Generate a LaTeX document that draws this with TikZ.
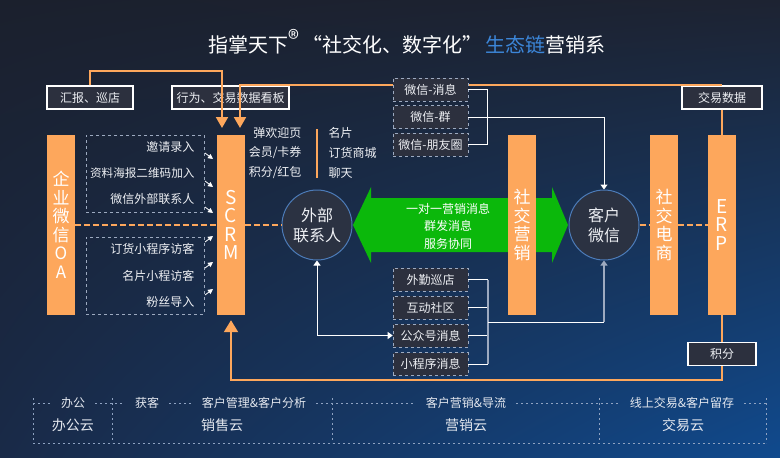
\documentclass[tikz,border=0pt]{standalone}
\usepackage{fontspec}
\setmainfont{Noto Sans CJK SC}
\usetikzlibrary{arrows.meta,shadings}

\definecolor{barorange}{HTML}{FDA75C}
\definecolor{arrowgreen}{HTML}{0BB80B}
\definecolor{circfill}{HTML}{2B3242}
\definecolor{circblue}{HTML}{4C7BB8}
\definecolor{boxfill}{HTML}{2C303E}
\definecolor{txt}{HTML}{EEF0F4}
\definecolor{steel}{HTML}{9DAAC0}
\definecolor{cloudline}{HTML}{8FA3C2}
\definecolor{titleblue}{HTML}{3C86D8}
\definecolor{bgul}{RGB}{27,32,45}
\definecolor{bgur}{RGB}{29,35,50}
\definecolor{bgll}{RGB}{25,42,72}
\definecolor{bglr}{RGB}{16,74,142}

\begin{document}
\begin{tikzpicture}[x=1pt, y=-1pt,
  every node/.style={text=txt, font=\fontsize{12}{14}\selectfont},
  bar/.style={fill=barorange, minimum width=28pt, minimum height=180pt, inner sep=0pt, text=white, align=center, font=\fontsize{17}{18.5}\selectfont},
  circ/.style={circle, draw=circblue, line width=1pt, fill=circfill, minimum size=70pt, inner sep=0pt, align=center, font=\fontsize{16}{20}\selectfont},
  solidbox/.style={draw=white, line width=1.2pt, fill=boxfill, minimum height=23pt, inner sep=0pt},
  dashbox/.style={draw=steel, dashed, line width=0.6pt, fill=boxfill, minimum width=75pt, minimum height=23pt, inner sep=0pt},
  orangeline/.style={draw=barorange, line width=2pt},
  orangedash/.style={draw=barorange, line width=1.5pt, dash pattern=on 6pt off 3pt},
  wline/.style={draw=white, line width=1pt},
  tinyarrow/.style={draw=white, line width=0.8pt, -{Triangle[width=5pt,length=5pt]}},
  cloudlbl/.style={inner xsep=10pt, text=txt!90!cloudline},
  cloudname/.style={font=\fontsize{14}{16}\selectfont, text=txt!90!cloudline},
  cloudrule/.style={draw=cloudline, line width=0.7pt, dash pattern=on 2pt off 3pt}]

\useasboundingbox (0,0) rectangle (780,458);
\shade[upper left=bgul, upper right=bgur, lower left=bgll, lower right=bglr] (0,0) rectangle (780,458);

\node[font=\fontsize{20}{24}\selectfont, text=white] (title) at (407,42)
  {指掌天下\raisebox{5pt}{\scalebox{1.9}{\fontsize{12}{12}\selectfont ®}}\,“社交化、数字化”\,\textcolor{titleblue}{生态链}营销系};

% green double arrow
\fill[arrowgreen] (353,225) -- (371,187) -- (371,198) -- (552,198) -- (552,187) -- (568,225)
  -- (552,263) -- (552,252) -- (371,252) -- (371,263) -- cycle;
\node[align=center, font=\fontsize{12}{17.5}\selectfont, text=white] (msg) at (448,226) {一对一营销消息\\群发消息\\服务协同};

\node[bar] (oa) at (61,225) {企\\业\\微\\信\\O\\A};
\node[bar, font=\fontsize{19}{18.5}\selectfont] (scrm) at (231,225) {S\\C\\R\\M};
\node[bar] (sm) at (522,225) {社\\交\\营\\销};
\node[bar] (se) at (664,225) {社\\交\\电\\商};
\node[bar, font=\fontsize{19}{18.5}\selectfont] (erp) at (722,225) {E\\R\\P};

\node[circ] (ext) at (317,225) {外部\\联系人};
\node[circ] (kh) at (604,225) {客户\\微信};

\draw[orangedash] (oa.east) -- (scrm.west);
\draw[orangedash] (scrm.east) -- (ext.west);
\draw[orangedash] (kh.east) -- (se.west);
\draw[orangedash] (se.east) -- (erp.west);

% top boxes
\node[solidbox, minimum width=86pt] (hb) at (90,97.5) {汇报、巡店};
\node[solidbox, minimum width=117pt] (kb) at (230.5,97.5) {行为、交易数据看板};
\node[solidbox, minimum width=80pt] (jy) at (722,97.5) {交易数据};
\node[solidbox, minimum width=68pt] (jf) at (722,354) {积分};

\coordinate (topline) at (0,71);
\coordinate (botline) at (0,380);
\coordinate (in1) at (222,128);
\coordinate (in2) at (240,128);
\draw[orangeline, -{Triangle[width=12pt,length=11pt]}] (hb.north) |- (in1 |- topline) -- (in1);
\draw[orangeline, {Triangle[width=12pt,length=11pt]}-] (in2) |- (jy.north);
\draw[orangeline] (jy.south) -- (erp.north);
\draw[orangeline] (erp.south) -- (jf.north);
\draw[orangeline, -{Triangle[width=14pt,length=12pt]}] (jf.south) |- (scrm.south |- botline) -- ([yshift=-5pt]scrm.south);

% sources into SCRM
\node[draw=steel, dashed, line width=0.6pt, minimum width=118pt, minimum height=77pt] (inbox) at (145,173.5) {};
\node[draw=steel, dashed, line width=0.6pt, minimum width=118pt, minimum height=77pt] (visbox) at (145,275.5) {};
\node[anchor=east] (s1) at (198,147) {邀请录入};
\node[anchor=east, font=\fontsize{11.6}{14}\selectfont] (s2) at (198,173) {资料海报二维码加入};
\node[anchor=east] (s3) at (198,199) {微信外部联系人};
\node[anchor=east] (s4) at (198,249) {订货小程序访客};
\node[anchor=east] (s5) at (198,276) {名片小程访客};
\node[anchor=east] (s6) at (198,302) {粉丝导入};
\foreach \y in {153,181,207} \draw[tinyarrow] (205,\y) -- (213,\y+6);
\foreach \y in {242,268,295} \draw[tinyarrow] (205,\y) -- (213,\y-6);

% SCRM functions
\node[anchor=east] (f1) at (305,133) {弹欢迎页};
\node[anchor=east] (f2) at (305,153) {会员/卡券};
\node[anchor=east] (f3) at (305,173) {积分/红包};
\node[anchor=west] (f4) at (325,133) {名片};
\node[anchor=west] (f5) at (325,153) {订货商城};
\node[anchor=west] (f6) at (325,173) {聊天};
\draw[barorange, line width=2pt] (317,129) -- (317,178);

% wechat channels
\node[dashbox] (w1) at (430.5,89.5) {微信-消息};
\node[dashbox] (w2) at (430.5,117) {微信-群};
\node[dashbox] (w3) at (430.5,144.5) {微信-朋友圈};
\draw[wline] (w1.east) -- ++(19,0) |- (w3.east);
\draw[wline, -{Triangle[width=7pt,length=5pt]}] (w2.east) -| (kh.north);

% other channels
\node[dashbox] (q1) at (430.5,279.5) {外勤巡店};
\node[dashbox] (q2) at (430.5,307.5) {互动社区};
\node[dashbox] (q3) at (430.5,335.5) {公众号消息};
\node[dashbox] (q4) at (430.5,364) {小程序消息};
\coordinate (qj) at (488,322);
\draw[wline] (q1.east) -- (qj |- q1.east);
\draw[wline] (q2.east) -- (qj |- q2.east);
\draw[wline] (q3.east) -- (qj |- q3.east);
\draw[wline] (q4.east) -- (qj |- q4.east);
\draw[steel, line width=1.5pt] (qj |- q1.east) -- (qj |- q4.east);
\draw[wline] (qj) -- (kh.south |- qj);
\draw[steel, line width=1.5pt, -{Triangle[width=7pt,length=5pt]}] (kh.south |- qj) -- (kh.south);
\draw[wline, {Triangle[width=7pt,length=5pt]}-{Triangle[width=7pt,length=5pt]}] (ext.south) |- (q3.west);

% clouds
\node[cloudlbl] (c1) at (73,403) {办公};
\node[cloudlbl] (c2) at (147,403) {获客};
\node[cloudlbl] (c3) at (254,403) {客户管理\&客户分析};
\node[cloudlbl] (c4) at (466,403) {客户营销\&导流};
\node[cloudlbl] (c5) at (682,403) {线上交易\&客户留存};
\node[cloudname] (n1) at (73,425) {办公云};
\node[cloudname] (n2) at (222,425) {销售云};
\node[cloudname] (n3) at (466,425) {营销云};
\node[cloudname] (n4) at (683,425) {交易云};
\draw[cloudrule] (33,403) -- (c1.west);
\draw[cloudrule] (c1.east) -- (c2.west);
\draw[cloudrule] (c2.east) -- (c3.west);
\draw[cloudrule] (c3.east) -- (c4.west);
\draw[cloudrule] (c4.east) -- (c5.west);
\draw[cloudrule] (c5.east) -- (766,403);
\foreach \x in {33,112,332,599,766} \draw[cloudrule] (\x,398) -- (\x,443);
\draw[cloudrule] (33,443) -- (766,443);

\end{tikzpicture}
\end{document}
